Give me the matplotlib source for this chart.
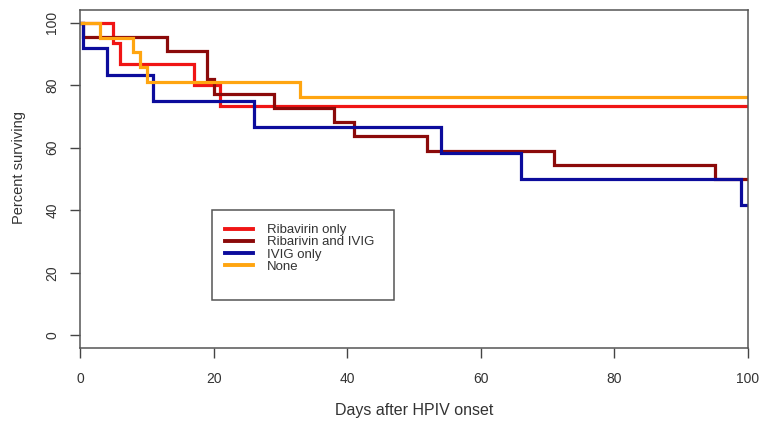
import matplotlib
matplotlib.use("Agg")
import matplotlib.pyplot as plt
from matplotlib.patches import Rectangle

# Kaplan-Meier step data (days, percent surviving)
rib_days = [0, 5, 6, 17, 21, 100]
rib_surv = [100, 93.3, 86.7, 80.0, 73.3, 73.3]

ribivig_days = [0, 0.5, 13, 19, 20, 29, 38, 41, 52, 71, 95, 100]
ribivig_surv = [100, 95.5, 90.9, 81.8, 77.3, 72.7, 68.2, 63.6, 59.1, 54.5, 50.0, 50.0]

ivig_days = [0, 0.5, 4, 11, 26, 54, 66, 99, 100]
ivig_surv = [100, 91.7, 83.3, 75.0, 66.7, 58.3, 50.0, 41.7, 41.7]

none_days = [0, 3, 8, 9, 10, 33, 100]
none_surv = [100, 95.2, 90.5, 85.7, 81.0, 76.2, 76.2]

labels = ["Ribavirin only", "Ribarivin and IVIG", "IVIG only", "None"]
colors = ["#f01515", "#8b0a0a", "#0c0c9c", "#ffa510"]

x_ticks = [0, 20, 40, 60, 80, 100]
y_ticks = [0, 20, 40, 60, 80, 100]

plt.rcParams['font.family'] = ['Liberation Sans', 'DejaVu Sans']

W, H = 765, 426
fig = plt.figure(figsize=(W / 100, H / 100), dpi=100)
ax = fig.add_axes([80 / W, 1 - 348 / H, (748 - 80) / W, (348 - 10) / H])

series = [(rib_days, rib_surv), (ribivig_days, ribivig_surv),
          (ivig_days, ivig_surv), (none_days, none_surv)]
handles = []
for (d, s), c, lab in zip(series, colors, labels):
    h, = ax.step(d, s, where='post', color=c, lw=2.3, label=lab,
                 solid_joinstyle='miter')
    handles.append(h)

ax.set_xlim(0, 100)
ax.set_ylim(-4, 104)
ax.set_xticks(x_ticks)
ax.set_yticks(y_ticks)
txt = '#333333'
ax.tick_params(axis='both', direction='out', length=7, width=1,
               color='#444444', labelcolor=txt, labelsize=10)
ax.tick_params(axis='x', pad=10)
ax.tick_params(axis='y', pad=8)
for lab in ax.get_yticklabels():
    lab.set_rotation(90)
    lab.set_va('center')
for sp in ax.spines.values():
    sp.set_color('#555555')
    sp.set_linewidth(1.1)

fig.text(19 / W, 1 - 168 / H, "Percent surviving", rotation=90,
         ha='center', va='center', fontsize=10.5, color=txt)
fig.text(414 / W, 1 - 410 / H, "Days after HPIV onset",
         ha='center', va='center', fontsize=11.5, color=txt)

# legend: frame drawn separately so the extra blank room below the rows matches
leg = ax.legend(handles=handles, loc='upper left',
                bbox_to_anchor=(225 / W, 1 - 224 / H), bbox_transform=fig.transFigure,
                frameon=False, fontsize=9.5, handlelength=2.1, handletextpad=1.1,
                labelspacing=0.0, borderaxespad=0, borderpad=0)
for t in leg.get_texts():
    t.set_color(txt)
for l in leg.get_lines():
    l.set_linewidth(2.8)
fig.patches.append(Rectangle((212 / W, 1 - 300 / H), (394 - 212) / W, (300 - 210) / H,
                             transform=fig.transFigure, fill=False,
                             edgecolor='#555555', lw=1.1))

fig.savefig("out.png", dpi=100, facecolor='white')
